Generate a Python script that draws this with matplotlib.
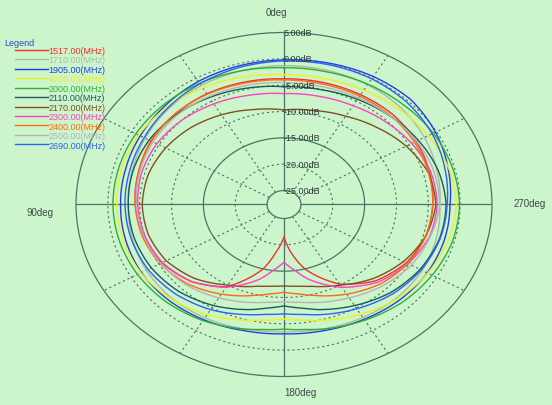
import matplotlib.pyplot as plt
import numpy as np

plt.rcParams['font.family'] = ['Liberation Sans', 'DejaVu Sans']

# measurement angles (deg, counter-clockwise from top)
angles = [0, 15, 30, 45, 60, 75, 90, 105, 120, 135, 150, 165, 172, 180,
          188, 195, 210, 225, 240, 255, 270, 285, 300, 315, 330, 345]

# gain in dB for each frequency
g1517 = [-3.8, -3.6, -3.4, -3.4, -3.6, -4.0, -4.3, -4.8, -5.5, -7.0, -9.6, -15.0, -18.5, -21.5,
         -18.0, -15.0, -10.2, -7.2, -5.5, -4.6, -4.3, -4.0, -3.7, -3.5, -3.6, -3.7]
g1710 = [-1.3, -1.4, -1.6, -2.0, -2.5, -3.0, -3.2, -3.0, -2.7, -2.6, -2.8, -3.2, -3.4, -3.5,
         -3.4, -3.2, -2.9, -2.6, -2.6, -2.9, -3.2, -2.8, -2.2, -1.7, -1.4, -1.3]
g1905 = [-0.2, -0.4, -0.7, -1.2, -1.6, -1.9, -2.0, -1.9, -1.8, -2.0, -2.4, -2.9, -3.0, -3.1,
         -3.0, -2.9, -2.5, -2.0, -1.7, -1.6, -1.6, -1.0, -0.2, 0.5, 0.4, 0.1]
g1950 = [-3.0, -2.6, -2.1, -1.6, -1.3, -1.3, -1.4, -1.5, -1.7, -2.4, -3.5, -4.9, -5.5, -5.9,
         -5.5, -4.9, -3.6, -2.4, -1.6, -1.0, -0.6, -0.9, -1.5, -2.1, -2.6, -2.9]
g2000 = [-1.7, -1.4, -1.1, -0.9, -0.8, -0.8, -0.8, -0.9, -1.1, -1.5, -2.2, -3.2, -3.7, -4.0,
         -3.7, -3.2, -2.3, -1.4, -0.8, -0.3, -0.1, -0.3, -0.6, -1.0, -1.3, -1.6]
g2110 = [-5.3, -4.8, -4.2, -3.6, -3.2, -3.1, -3.2, -3.3, -3.6, -4.3, -5.5, -7.0, -7.8, -8.4,
         -7.8, -7.0, -5.5, -4.0, -3.0, -2.4, -2.2, -2.6, -3.3, -4.0, -4.6, -5.1]
g2170 = [-9.7, -9.0, -8.0, -7.0, -6.2, -5.6, -5.4, -5.6, -6.3, -7.8, -10.0, -11.6, -12.0, -12.2,
         -12.0, -11.6, -10.0, -7.8, -6.0, -4.6, -3.8, -4.2, -5.5, -7.0, -8.3, -9.2]
g2300 = [-6.6, -6.2, -5.6, -5.0, -4.6, -4.5, -4.7, -5.0, -5.6, -7.0, -9.5, -13.0, -15.0, -16.7,
         -15.0, -13.0, -9.5, -6.8, -5.2, -4.0, -3.6, -3.8, -4.5, -5.3, -6.0, -6.4]
g2400 = [-4.0, -3.8, -3.5, -3.4, -3.5, -4.0, -4.3, -4.6, -5.2, -6.3, -8.0, -9.8, -10.5, -11.0,
         -10.5, -9.8, -8.0, -6.3, -5.2, -4.6, -4.3, -4.2, -4.0, -3.9, -3.9, -4.0]
g2500 = [-4.5, -4.3, -4.0, -3.8, -3.9, -4.2, -4.5, -4.8, -5.3, -6.0, -7.2, -8.4, -8.9, -9.2,
         -8.9, -8.4, -7.2, -5.8, -4.6, -3.9, -3.2, -3.3, -3.6, -4.0, -4.3, -4.5]
g2690 = [-0.4, -0.7, -1.2, -1.8, -2.3, -2.6, -2.7, -2.8, -3.0, -3.6, -4.6, -6.0, -6.6, -6.9,
         -6.6, -6.0, -4.8, -3.6, -2.8, -2.3, -2.05, -1.5, -0.8, -0.3, -0.1, -0.2]

labels = ['1517.00(MHz)', '1710.00(MHz)', '1905.00(MHz)', '1950.00(MHz)', '2000.00(MHz)',
          '2110.00(MHz)', '2170.00(MHz)', '2300.00(MHz)', '2400.00(MHz)', '2500.00(MHz)',
          '2690.00(MHz)']
gains = [g1517, g1710, g1905, g1950, g2000, g2110, g2170, g2300, g2400, g2500, g2690]
colors = ['#f03030', '#a8bca8', '#2040e0', '#eef020', '#30b030', '#1a5a5a', '#805020',
          '#ff40c0', '#ff6a10', '#b4b4b4', '#3060f0']

ring_levels = [5, 0, -5, -10, -15, -20, -25]

bg = '#ccf5cc'
grid_c = '#4a7464'

fig = plt.figure(figsize=(5.52, 4.06), dpi=100)
fig.patch.set_facecolor(bg)
ax = fig.add_axes([0.1377, 0.0702, 0.7536, 0.8473], projection='polar')
ax.set_aspect('auto')
ax.set_facecolor(bg)
ax.set_theta_zero_location('N')
ax.set_theta_direction(1)
ax.set_rlim(-25, 5)
ax.set_rorigin(-27.66)
ax.grid(False)
ax.set_xticks([])
ax.set_yticks([])
for sp in ax.spines.values():
    sp.set_color(grid_c)
    sp.set_linewidth(0.9)

# rings and spokes
th = np.linspace(0, 2 * np.pi, 361)
for lvl in [0, -5, -10, -20]:
    ax.plot(th, np.full_like(th, lvl), color=grid_c, lw=0.8, ls=(0, (2, 2.5)))
ax.plot(th, np.full_like(th, -15), color=grid_c, lw=0.9)
for a in range(0, 360, 30):
    t = np.deg2rad(a)
    if a % 90 == 0:
        ax.plot([t, t], [-25, 5], color=grid_c, lw=0.9)
    else:
        ax.plot([t, t], [-25, 5], color=grid_c, lw=0.8, ls=(0, (2, 2.5)))

# traces, drawn as arcs between the measured angles
ang = np.deg2rad(np.append(angles, 360))
for lab, g, c in zip(labels, gains, colors):
    ln, = ax.plot(ang, np.append(g, g[0]), color=c, lw=1.0, label=lab)
    ln.get_path()._interpolation_steps = 12

for lvl in ring_levels:
    ax.text(0, lvl, '%.2fdB' % lvl, fontsize=6.5, color='#303838',
            ha='left', va='center')

fig.text(276 / 552, 1 - 13 / 406, '0deg', fontsize=7, color='#404848', ha='center', va='center')
fig.text(40 / 552, 1 - 213 / 406, '90deg', fontsize=7, color='#404848', ha='center', va='center')
fig.text(530 / 552, 1 - 204 / 406, '270deg', fontsize=7, color='#404848', ha='center', va='center')
fig.text(300 / 552, 1 - 393 / 406, '180deg', fontsize=7, color='#404848', ha='center', va='center')

fig.text(4 / 552, 1 - 43 / 406, 'Legend', fontsize=6.5, color='#2a4ac0', ha='left', va='center')
fig.legend(loc='upper left', bbox_to_anchor=(15 / 552, 1 - 47 / 406), frameon=False,
           fontsize=6.5, handlelength=3.6, handletextpad=0.1, labelspacing=0.05,
           borderpad=0, borderaxespad=0, labelcolor='linecolor')

fig.savefig('out.png', dpi=100, facecolor=bg)
